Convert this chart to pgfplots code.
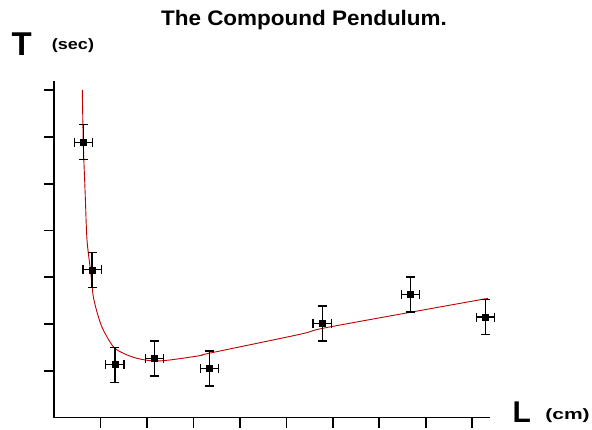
\documentclass[border=0pt]{standalone}
\usepackage{pgfplots}
\pgfplotsset{compat=1.18}
\usepackage{fontspec}
\setmainfont{Liberation Sans}
\definecolor{curvered}{RGB}{192,0,0}
\begin{document}
\begin{tikzpicture}
\begin{axis}[
  at={(0pt,0pt)}, anchor=south west,
  scale only axis, width=436pt, height=336.5pt,
  xmin=0, xmax=9.38, ymin=0, ymax=7.2,
  axis lines*=left,
  axis line style={line width=1.8pt, -},
  xtick={1,2,3,4,5,6,7,8,9},
  ytick={1,2,3,4,5,6,7},
  xticklabels={}, yticklabels={},
  tick align=outside,
  major tick length=10pt,
  tick style={line width=1.8pt, black},
  clip=false,
]
\addplot[curvered, line width=0.9pt, smooth, tension=0.5] coordinates {
 (0.609,7.01) (0.630,5.88) (0.673,4.73) (0.710,3.80) (0.789,3.12) (0.845,2.59)
 (0.953,2.16) (1.060,1.874) (1.275,1.516) (1.490,1.375) (1.778,1.268)
 (2.135,1.210) (2.495,1.231) (3.133,1.323) (3.34,1.375) (5.29,1.78)
 (5.79,1.91) (7.66,2.25) (9.34,2.55)
};
\addplot[black, only marks, mark=square*, mark size=3pt,
  error bars/.cd, x dir=both, x explicit, y dir=both, y explicit,
  error bar style={line width=1.3pt, black},
  error mark options={rotate=90, line width=1.3pt, mark size=4.5pt, black}]
 coordinates {
 (0.63,5.89) +- (0.195,0.375)
 (0.82,3.16) +- (0.195,0.375)
 (1.31,1.13) +- (0.195,0.375)
 (2.16,1.26) +- (0.195,0.375)
 (3.34,1.05) +- (0.195,0.375)
 (5.77,2.01) +- (0.195,0.375)
 (7.67,2.63) +- (0.195,0.375)
 (9.28,2.15) +- (0.195,0.375)
};
\end{axis}
\node[inner sep=0pt, font=\bfseries\fontsize{21}{25}\selectfont] at (250pt,397.5pt) {\scalebox{1.07}[1]{The Compound Pendulum.}};
\node[inner sep=0pt, font=\bfseries\fontsize{33}{38}\selectfont] at (-32.3pt,373.5pt) {T};
\node[inner sep=0pt, font=\bfseries\fontsize{15}{18}\selectfont] at (19pt,371.5pt) {\scalebox{1.2}[1]{(sec)}};
\node[inner sep=0pt, font=\bfseries\fontsize{30}{34}\selectfont] at (467.7pt,5pt) {L};
\node[inner sep=0pt, font=\bfseries\fontsize{15}{18}\selectfont] at (513.5pt,1.5pt) {\scalebox{1.4}[1]{(cm)}};
\pgfresetboundingbox
\path[use as bounding box] (-54pt,-11.5pt) rectangle (538pt,417.5pt);
\end{tikzpicture}
\end{document}
